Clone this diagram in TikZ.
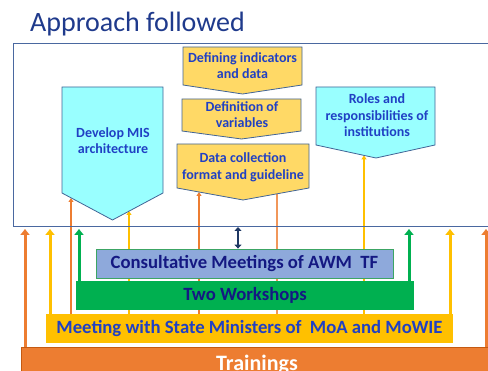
\documentclass[tikz,border=0pt]{standalone}
\usepackage{fontspec}
\setmainfont{Carlito}
\usetikzlibrary{arrows.meta,backgrounds}

\definecolor{titleblue}{RGB}{31,58,140}
\definecolor{frameblue}{RGB}{74,104,160}
\definecolor{edgeblue}{RGB}{65,100,150}
\definecolor{textblue}{RGB}{32,64,196}
\definecolor{darknavy}{RGB}{20,24,130}
\definecolor{skycyan}{RGB}{153,255,255}
\definecolor{paleyellow}{RGB}{255,217,102}
\definecolor{consultblue}{RGB}{142,169,219}
\definecolor{consultedge}{RGB}{60,165,100}
\definecolor{wsgreen}{RGB}{0,176,80}
\definecolor{gold}{RGB}{255,192,0}
\definecolor{trainorange}{RGB}{237,125,49}
\definecolor{trainedge}{RGB}{197,90,17}
\definecolor{tfnavy}{RGB}{31,56,100}

\begin{document}
\begin{tikzpicture}[x=1pt,y=-1pt,
  boxtext/.style={font=\bfseries\fontsize{14}{16.5}\selectfont,text=textblue,align=center,inner sep=0pt},
  cyanbox/.style={fill=skycyan,draw=edgeblue,line width=0.8pt},
  goldbox/.style={fill=paleyellow,draw=edgeblue,line width=0.8pt},
  band/.style={inner sep=0pt,minimum height=29pt,font=\bfseries\fontsize{18.7}{21}\selectfont},
  thinline/.style={line width=1.2pt},
  thinarrow/.style={line width=1.2pt,-{Triangle[width=5pt,length=4pt]}},
  fatarrow/.style={line width=3pt,-{Triangle[width=9pt,length=6pt]}}]
\useasboundingbox (0,0) rectangle (488,371);
\clip (0,0) rectangle (488,371);

% heading
\node[anchor=base west,inner sep=0pt,font=\fontsize{28}{32}\selectfont,text=titleblue] (title) at (30,32) {Approach followed};

% the outer frame
\node[draw=frameblue,line width=0.8pt,inner sep=0pt,minimum width=482pt,minimum height=183pt] (frame) at (254,134.5) {};

% the down-pointing boxes
\draw[goldbox] (183,47) -- (302,47) -- (302,85) -- (242.5,94) -- (183,85) -- cycle;
\node[boxtext] (indic) at (242.5,65.5) {Defining indicators\\and data};
\draw[goldbox] (182,99) -- (301,99) -- (301,131) -- (241.5,139) -- (182,131) -- cycle;
\node[boxtext] (vars) at (242,114.5) {Definition of\\variables};
\draw[goldbox] (177,144) -- (309,144) -- (309,188) -- (243,200) -- (177,188) -- cycle;
\node[boxtext] (collect) at (243,167.5) {Data collection\\format and guideline};
\draw[cyanbox] (62,87) -- (163,87) -- (163,193) -- (112.5,220) -- (62,193) -- cycle;
\node[boxtext] (mis) at (113,140.5) {Develop MIS\\architecture};
\draw[cyanbox] (316,87) -- (435,87) -- (435,145) -- (376,158) -- (316,145) -- cycle;
\node[boxtext] (roles) at (377,115.5) {Roles and\\responsibilities of\\institutions};

% the stacked bands
\node[band,fill=consultblue,draw=consultedge,line width=0.8pt,minimum width=297pt,text=darknavy] (consult) at (244.5,263.5) {Consultative Meetings of AWM\ \ TF};
\node[band,fill=wsgreen,minimum width=338pt,text=darknavy] (work) at (245,295.5) {Two Workshops};
\node[band,fill=gold,minimum width=407pt,text=textblue] (meet) at (249.5,328.5) {Meeting with State Ministers of\ \ MoA and MoWIE};
\node[band,fill=trainorange,draw=trainedge,line width=0.8pt,minimum width=472pt,minimum height=35.4pt,text=white,font=\bfseries\fontsize{22}{25}\selectfont] (train) at (257,364.7) {Trainings};

% ends of the links
\coordinate (misL) at (71,198);
\coordinate (misR) at (129,211);
\coordinate (colL) at (199,192);
\coordinate (colR) at (277,194);
\coordinate (rolA) at (364,155.4);
\coordinate (f1) at (25,229);
\coordinate (f2) at (50,229);
\coordinate (f3) at (79,229);
\coordinate (f4) at (409,229);
\coordinate (f5) at (450,229);
\coordinate (f6) at (486,229);
\coordinate (tf) at (238,227);

% thin links run behind the bands
\begin{scope}[on background layer]
\draw[thinarrow,trainorange] (meet.north -| misL) -- (misL);
\draw[thinarrow,gold] (meet.north -| misR) -- (misR);
\draw[thinarrow,trainorange] (meet.north -| colL) -- (colL);
\draw[thinline,trainorange!80] (meet.north -| colR) -- (colR);
\draw[thinarrow,gold] (meet.north -| rolA) -- (rolA);
\end{scope}

% thick links up to the frame
\draw[fatarrow,trainorange] (train.north -| f1) -- (f1);
\draw[fatarrow,gold] (meet.north -| f2) -- (f2);
\draw[fatarrow,wsgreen] (work.north -| f3) -- (f3);
\draw[fatarrow,wsgreen] (work.north -| f4) -- (f4);
\draw[fatarrow,gold] (meet.north -| f5) -- (f5);
\draw[fatarrow,trainorange] (train.north -| f6) -- (f6);
\draw[line width=2.4pt,tfnavy,{Triangle[width=7pt,length=4pt]}-{Triangle[width=7pt,length=4pt]}] (tf) -- (consult.north -| tf);
\end{tikzpicture}
\end{document}
